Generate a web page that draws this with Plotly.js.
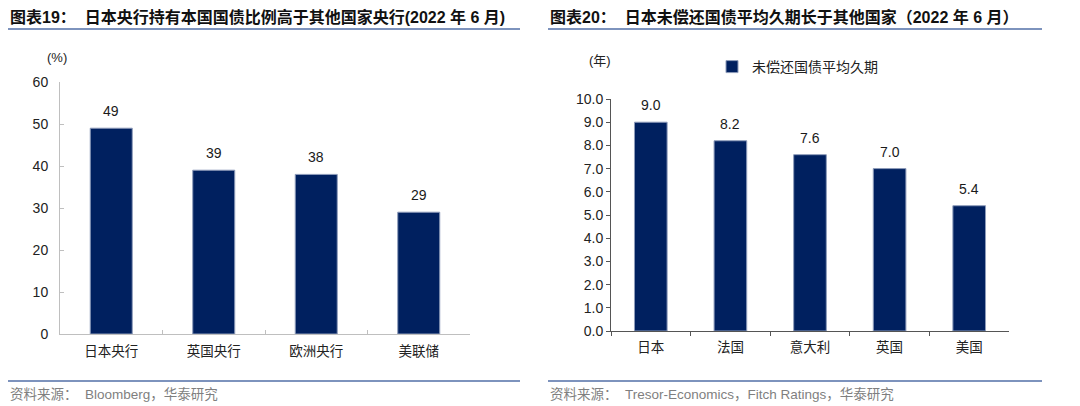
<!DOCTYPE html>
<html>
<head>
<meta charset="utf-8">
<script src="https://cdn.plot.ly/plotly-3.0.1.min.js"></script>
<style>html,body{margin:0;padding:0;background:#fff;}#chart{width:1080px;height:406px;}</style>
</head>
<body>
<div id="chart"></div>
<script>
// Chart 19 data
const banks = ["日本央行", "英国央行", "欧洲央行", "美联储"];
const holdShare = [49, 39, 38, 29];
const leftTicks = [0, 10, 20, 30, 40, 50, 60];
// Chart 20 data
const countries = ["日本", "法国", "意大利", "英国", "美国"];
const avgMaturity = [9.0, 8.2, 7.6, 7.0, 5.4];
const rightTicks = [0, 1, 2, 3, 4, 5, 6, 7, 8, 9, 10];
const seriesName = "未偿还国债平均久期";

const W = 1080, H = 406;
const px = x => x / W;
const py = y => 1 - y / H;

const NAVY = "#00205F";
const CJK = "'Noto Sans CJK SC', sans-serif";
const LAT = "'Liberation Sans', Arial, sans-serif";
const MIX = "'Liberation Sans', 'Noto Sans CJK SC', sans-serif";

const traces = [
  {
    type: "bar", x: banks, y: holdShare, xaxis: "x", yaxis: "y",
    marker: {color: NAVY, line: {color: "#8e9cba", width: 1}},
    width: 0.41, showlegend: false, hoverinfo: "skip"
  },
  {
    type: "bar", x: countries, y: avgMaturity, xaxis: "x2", yaxis: "y2",
    name: seriesName,
    marker: {color: NAVY, line: {color: "#8e9cba", width: 1}},
    width: 0.41, showlegend: true, hoverinfo: "skip"
  }
];

const annotations = [];
banks.forEach((b, i) => annotations.push({
  x: b, y: holdShare[i], xref: "x", yref: "y", text: String(holdShare[i]),
  showarrow: false, yanchor: "bottom", yshift: 7,
  font: {family: LAT, size: 14, color: "#1a1a1a"}
}));
countries.forEach((c, i) => annotations.push({
  x: c, y: avgMaturity[i], xref: "x2", yref: "y2", text: avgMaturity[i].toFixed(1),
  showarrow: false, yanchor: "bottom", yshift: 7,
  font: {family: LAT, size: 14, color: "#1a1a1a"}
}));
// titles
annotations.push({
  xref: "paper", yref: "paper", x: px(8), y: py(17), xanchor: "left", yanchor: "middle",
  text: "<b>图表19：  日本央行持有本国国债比例高于其他国家央行(2022 年 6 月)</b>",
  showarrow: false, font: {family: MIX, size: 16, color: "#111"}
});
annotations.push({
  xref: "paper", yref: "paper", x: px(548), y: py(17), xanchor: "left", yanchor: "middle",
  text: "<b>图表20：  日本未偿还国债平均久期长于其他国家（2022 年 6 月）</b>",
  showarrow: false, font: {family: MIX, size: 16, color: "#111"}
});
// units
annotations.push({
  xref: "paper", yref: "paper", x: px(57), y: py(57), xanchor: "center", yanchor: "middle",
  text: "(%)", showarrow: false, font: {family: LAT, size: 13, color: "#222"}
});
annotations.push({
  xref: "paper", yref: "paper", x: px(600), y: py(60), xanchor: "center", yanchor: "middle",
  text: "(年)", showarrow: false, font: {family: MIX, size: 13, color: "#222"}
});
// sources
annotations.push({
  xref: "paper", yref: "paper", x: px(8), y: py(394), xanchor: "left", yanchor: "middle",
  text: "资料来源：  Bloomberg，华泰研究", showarrow: false,
  font: {family: MIX, size: 13.5, color: "#7f7f7f"}
});
annotations.push({
  xref: "paper", yref: "paper", x: px(548), y: py(394), xanchor: "left", yanchor: "middle",
  text: "资料来源：  Tresor-Economics，Fitch Ratings，华泰研究", showarrow: false,
  font: {family: MIX, size: 13.5, color: "#7f7f7f"}
});

const lineColor = "#7d93bd";
const shapes = [
  {type: "line", xref: "paper", yref: "paper", x0: px(8), x1: px(520), y0: py(29), y1: py(29), line: {color: lineColor, width: 2}},
  {type: "line", xref: "paper", yref: "paper", x0: px(548), x1: px(1042), y0: py(29), y1: py(29), line: {color: lineColor, width: 2}},
  {type: "line", xref: "paper", yref: "paper", x0: px(8), x1: px(520), y0: py(381), y1: py(381), line: {color: lineColor, width: 2}},
  {type: "line", xref: "paper", yref: "paper", x0: px(548), x1: px(1042), y0: py(381), y1: py(381), line: {color: lineColor, width: 2}}
];

const layout = {
  width: W, height: H,
  margin: {l: 0, r: 0, t: 0, b: 0},
  paper_bgcolor: "#fff", plot_bgcolor: "#fff",
  showlegend: true,
  legend: {
    x: px(712), y: py(51), xanchor: "left", yanchor: "top",
    font: {family: CJK, size: 14, color: "#222"},
    bgcolor: "rgba(0,0,0,0)", itemwidth: 30, tracegroupgap: 0
  },
  xaxis: {
    domain: [px(60), px(470)], anchor: "y", type: "category",
    showline: true, linecolor: "#bfbfbf", linewidth: 1,
    ticks: "inside", ticklen: 4, tickcolor: "#bfbfbf", tickson: "boundaries",
    ticklabelstandoff: 5,
    showgrid: false, zeroline: false, fixedrange: true,
    tickfont: {family: CJK, size: 13.5, color: "#222"}
  },
  yaxis: {
    domain: [py(334), py(82)], anchor: "x", range: [0, 60],
    tickvals: leftTicks, ticktext: leftTicks.map(String),
    showline: true, linecolor: "#bfbfbf", linewidth: 1,
    ticks: "inside", ticklen: 4, tickcolor: "#bfbfbf", ticklabelstandoff: 8,
    showgrid: false, zeroline: false, fixedrange: true,
    tickfont: {family: LAT, size: 14, color: "#222"}
  },
  xaxis2: {
    domain: [px(611), px(1009)], anchor: "y2", type: "category",
    showline: true, linecolor: "#555", linewidth: 1,
    ticks: "outside", ticklen: 4, tickcolor: "#555", tickson: "boundaries",
    ticklabelstandoff: 4,
    showgrid: false, zeroline: false, fixedrange: true,
    tickfont: {family: CJK, size: 13.5, color: "#222"}
  },
  yaxis2: {
    domain: [py(331), py(99)], anchor: "x2", range: [0, 10],
    tickvals: rightTicks, ticktext: rightTicks.map(v => v.toFixed(1)),
    showline: true, linecolor: "#555", linewidth: 1,
    ticks: "outside", ticklen: 4, tickcolor: "#555",
    showgrid: false, zeroline: false, fixedrange: true,
    tickfont: {family: LAT, size: 14, color: "#222"}
  },
  annotations: annotations,
  shapes: shapes
};

Plotly.newPlot("chart", traces, layout, {displayModeBar: false, staticPlot: true});
</script>
</body>
</html>
